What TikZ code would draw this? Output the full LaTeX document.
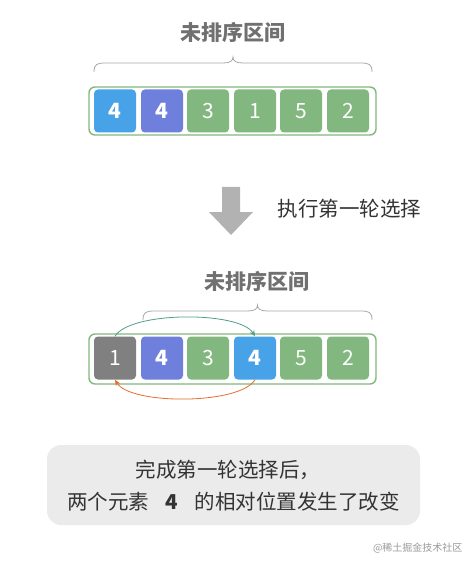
\documentclass[tikz,border=0pt]{standalone}
\usepackage{fontspec}
\newfontfamily\cjk{Noto Sans CJK SC}
\usetikzlibrary{arrows.meta}
\definecolor{cblue}{HTML}{48A2E8}
\definecolor{cpurple}{HTML}{6E80DC}
\definecolor{cgreen}{HTML}{82B87F}
\definecolor{cgray}{HTML}{808080}
\definecolor{tgray}{HTML}{707070}
\definecolor{boxgray}{HTML}{EBEBEB}
\definecolor{arcgreen}{HTML}{4E9E86}
\definecolor{arcorange}{HTML}{E86A30}
\newcommand{\mybrace}[3]{% left x, right x, baseline y
  \draw[bracestyle] (#1,#3) .. controls (#1,{#3-8}) and ({#1+3},{#3-9}) .. ({#1+12},{#3-9})
    -- ({(#1+#2)/2-10},{#3-9}) .. controls ({(#1+#2)/2-3},{#3-9}) and ({(#1+#2)/2},{#3-11}) .. ({(#1+#2)/2},{#3-15})
    .. controls ({(#1+#2)/2},{#3-11}) and ({(#1+#2)/2+3},{#3-9}) .. ({(#1+#2)/2+10},{#3-9})
    -- ({#2-12},{#3-9}) .. controls ({#2-3},{#3-9}) and (#2,{#3-8}) .. (#2,#3);}
\begin{document}
\begin{tikzpicture}[x=1pt,y=-1pt,
  cell/.style={rounded corners=4pt,minimum width=42pt,minimum height=43pt,inner sep=0pt,text=white,font=\cjk\fontsize{21}{21}\selectfont},
  bigcell/.style={cell,font=\cjk\bfseries\fontsize{21}{21}\selectfont},
  outerbox/.style={draw=cgreen,line width=1.4pt,rounded corners=6pt,fill=white},
  title/.style={font=\cjk\bfseries\fontsize{21}{21}\selectfont,text=tgray},
  bracestyle/.style={draw=black!35,line width=0.8pt},
  txt/.style={font=\cjk\fontsize{20.5}{20.5}\selectfont,text=black!80}]
\useasboundingbox (0,0) rectangle (471,561);
% top array
\node[title] (t1) at (233,32) {未排序区间};
\mybrace{94}{372}{72}
\draw[outerbox] (89,87) rectangle (376,135);
\node[bigcell,fill=cblue] (a1) at (115,111) {4};
\node[bigcell,fill=cpurple] (a2) at (162,111) {4};
\node[cell,fill=cgreen] (a3) at (208,111) {3};
\node[cell,fill=cgreen] (a4) at (255,111) {1};
\node[cell,fill=cgreen] (a5) at (301,111) {5};
\node[cell,fill=cgreen] (a6) at (348,111) {2};
% arrow
\fill[black!30] (222,187) -- (240,187) -- (240,212) -- (253,212) -- (231,235) -- (209,212) -- (222,212) -- cycle;
\node[txt,anchor=west] (step) at (274,209) {执行第一轮选择};
% bottom array
\node[title] (t2) at (257,281) {未排序区间};
\mybrace{143}{372}{320}
\draw[outerbox] (89,334) rectangle (376,384);
\node[cell,fill=cgray] (c1) at (115,358) {1};
\node[bigcell,fill=cpurple] (c2) at (162,358) {4};
\node[cell,fill=cgreen] (c3) at (208,358) {3};
\node[bigcell,fill=cblue] (c4) at (255,358) {4};
\node[cell,fill=cgreen] (c5) at (301,358) {5};
\node[cell,fill=cgreen] (c6) at (348,358) {2};
\draw[arcgreen,line width=0.8pt,-{Stealth[length=6pt,width=5pt]}] (c1.north) .. controls (130,311) and (240,311) .. (c4.north);
\draw[arcorange,line width=0.8pt,-{Stealth[length=6pt,width=5pt]}] (c4.south) .. controls (240,405) and (130,405) .. (c1.south);
% note box
\node[fill=boxgray,rounded corners=14pt,minimum width=373pt,minimum height=80pt] (note) at (233.5,485) {};
\node[txt] (l1) at (228,470) {完成第一轮选择后，};
\node[txt] (l2) at (233.5,502) {两个元素\hspace{0.8em}{\bfseries 4}\hspace{0.8em}的相对位置发生了改变};
\node[font=\cjk\fontsize{10}{10}\selectfont,text=black!40,anchor=east] (wm) at (466,548) {@稀土掘金技术社区};
\end{tikzpicture}
\end{document}
